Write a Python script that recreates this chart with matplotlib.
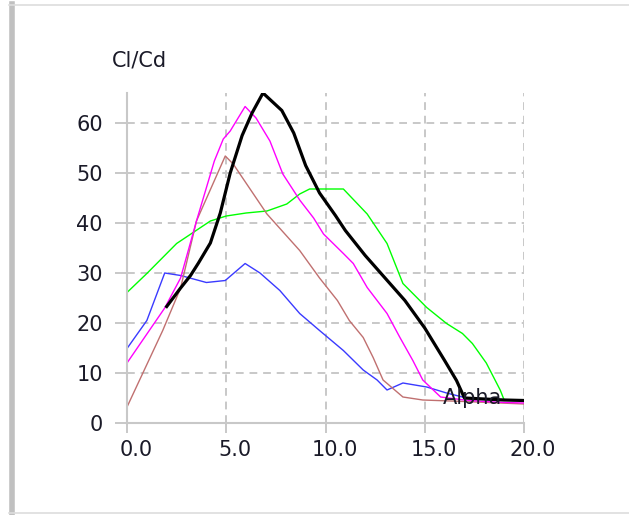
import numpy as np
import matplotlib.pyplot as plt
import matplotlib.transforms as mtransforms
from matplotlib.lines import Line2D

# Cl/Cd en fonction de alpha
alpha_noir = [2.0, 2.7, 3.2, 3.6, 4.2, 4.7, 5.2, 5.8, 6.3, 6.85, 7.8, 8.4, 9.0, 9.7, 10.5,
              11.0, 12.0, 13.0, 14.0, 15.0, 16.0, 16.6, 17.0, 18.0, 19.0, 20.0]
clcd_noir = [23.3, 27.0, 29.5, 32.0, 36.0, 42.0, 50.0, 57.5, 62.0, 66.0, 62.5, 58.0, 51.5, 46.0, 41.5,
             38.5, 33.5, 29.0, 24.5, 19.0, 12.5, 8.5, 5.0, 4.8, 4.6, 4.5]

alpha_magenta = [0.0, 1.9, 2.7, 3.5, 4.4, 4.85, 5.2, 5.95, 6.5, 7.2, 7.85, 8.7, 9.4, 9.9, 10.9,
                 11.4, 12.1, 13.1, 13.75, 14.4, 14.9, 15.8, 17.0, 18.0, 19.0, 20.0]
clcd_magenta = [12.0, 23.0, 29.0, 40.4, 52.4, 56.8, 58.4, 63.3, 61.0, 56.4, 49.8, 44.6, 41.0, 37.8, 33.9,
                31.9, 27.1, 21.9, 17.1, 12.5, 8.6, 5.2, 4.6, 4.3, 4.1, 4.0]

alpha_brun = [0.0, 1.8, 2.7, 3.5, 4.95, 5.35, 7.05, 8.7, 9.7, 10.6, 11.2, 11.9, 12.4, 12.9,
              13.9, 14.9, 17.0, 20.0]
clcd_brun = [3.2, 18.5, 27.0, 40.4, 53.4, 51.8, 41.8, 34.5, 29.0, 24.5, 20.5, 17.1, 13.1, 8.6,
             5.2, 4.6, 4.3, 3.8]

alpha_bleu = [0.0, 1.0, 1.9, 2.7, 4.0, 4.95, 5.95, 6.7, 7.7, 8.7, 9.7, 10.9, 11.9, 12.6, 13.1,
              13.9, 15.1, 16.1, 17.1, 18.0, 20.0]
clcd_bleu = [14.9, 20.5, 30.0, 29.5, 28.1, 28.5, 31.9, 30.0, 26.5, 21.9, 18.5, 14.5, 10.6, 8.6, 6.6,
             8.0, 7.2, 6.0, 5.0, 4.7, 4.6]

alpha_vert = [0.0, 1.0, 2.5, 4.2, 5.0, 6.0, 7.05, 8.05, 8.7, 9.2, 10.9, 12.1, 13.1, 13.9, 15.1,
              16.1, 16.9, 17.4, 18.1, 18.8, 19.0, 20.0]
clcd_vert = [26.1, 29.9, 35.9, 40.4, 41.4, 42.0, 42.4, 43.8, 45.8, 46.8, 46.8, 41.8, 35.9, 27.9, 23.1,
             19.9, 17.9, 15.9, 12.0, 6.6, 4.6, 4.5]

xticks = [0, 5, 10, 15, 20]
yticks = [0, 10, 20, 30, 40, 50, 60]

gris = '#c8c8c8'
texte = '#1a1a28'

fig = plt.figure(figsize=(6.29, 5.15), dpi=100)
ax = fig.add_axes([127 / 629, (515 - 423) / 515, (524 - 127) / 629, (423 - 93) / 515])

ax.plot(alpha_vert, clcd_vert, color='#00ff00', lw=1.0)
ax.plot(alpha_bleu, clcd_bleu, color='#3a3aff', lw=1.0)
ax.plot(alpha_brun, clcd_brun, color='#c07070', lw=1.0)
ax.plot(alpha_magenta, clcd_magenta, color='#ff00ff', lw=1.0)
ax.plot(alpha_noir, clcd_noir, color='black', lw=2.3)

ax.set_xlim(0, 20)
ax.set_ylim(0, 66)
ax.set_xticks(xticks)
ax.set_xticklabels([f'{v:.1f}' for v in xticks])
ax.set_yticks(yticks)
ax.grid(True, color=gris, ls=(0, (4, 3)), lw=1.4)
ax.tick_params(axis='x', length=7.5, width=1.4, color=gris, pad=5, labelsize=15, labelcolor=texte)
ax.tick_params(axis='y', length=8.5, width=1.4, color=gris, pad=9, labelsize=15, labelcolor=texte)
for s in ['top', 'right']:
    ax.spines[s].set_visible(False)
for s in ['left', 'bottom']:
    ax.spines[s].set_color(gris)
    ax.spines[s].set_linewidth(1.5)

# les libellés de l'axe x sont décalés vers la droite
decalage = mtransforms.ScaledTranslation(9 / 100, 0, fig.dpi_scale_trans)
for lab in ax.get_xticklabels():
    lab.set_transform(lab.get_transform() + decalage)

ax.text(17.4, 5.0, 'Alpha', ha='center', va='center', fontsize=15, color=texte)
fig.text(112 / 629, 1 - 60 / 515, 'Cl/Cd', ha='left', va='center', fontsize=15, color=texte)

# cadre de la fenêtre
fig.add_artist(Line2D([11.5 / 629, 11.5 / 629], [0, 1 - 4 / 515], transform=fig.transFigure,
                      color='#c0c0c0', lw=4))
fig.add_artist(Line2D([9 / 629, 1], [1 - 4.5 / 515, 1 - 4.5 / 515], transform=fig.transFigure,
                      color='#dddddd', lw=1.2))
fig.add_artist(Line2D([9 / 629, 1], [2.5 / 515, 2.5 / 515], transform=fig.transFigure,
                      color='#dddddd', lw=1.2))

fig.savefig('out.png', dpi=100)
